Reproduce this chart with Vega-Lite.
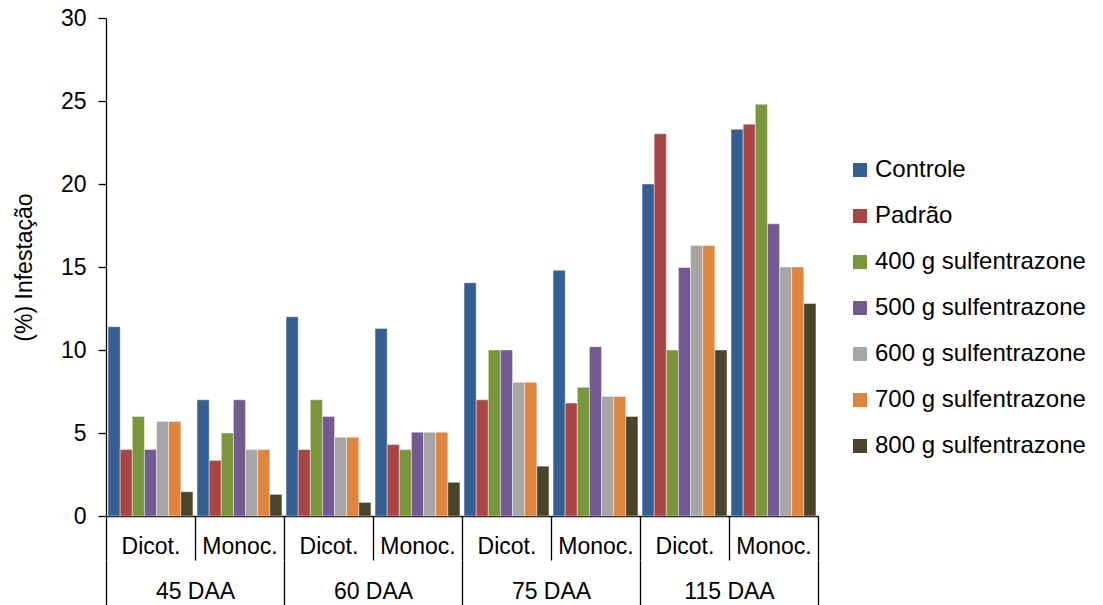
{
  "$schema": "https://vega.github.io/schema/vega-lite/v6.json",
  "width": 712,
  "height": 498,
  "autosize": {"type": "none"},
  "padding": {"left": 106, "top": 18, "right": 285, "bottom": 89},
  "background": "white",
  "config": {
    "font": "Liberation Sans",
    "view": {"stroke": null},
    "axis": {"labelFont": "Liberation Sans", "titleFont": "Liberation Sans", "labelColor": "black", "titleColor": "black", "domainColor": "black", "tickColor": "black", "grid": false}
  },
  "data": {
    "values": [
      {"cat": "45 DAA|Dicot.", "daa": "45 DAA", "trat": "Controle", "v": 11.4},
      {"cat": "45 DAA|Dicot.", "daa": "45 DAA", "trat": "Padrão", "v": 4.0},
      {"cat": "45 DAA|Dicot.", "daa": "45 DAA", "trat": "400 g sulfentrazone", "v": 6.0},
      {"cat": "45 DAA|Dicot.", "daa": "45 DAA", "trat": "500 g sulfentrazone", "v": 4.0},
      {"cat": "45 DAA|Dicot.", "daa": "45 DAA", "trat": "600 g sulfentrazone", "v": 5.7},
      {"cat": "45 DAA|Dicot.", "daa": "45 DAA", "trat": "700 g sulfentrazone", "v": 5.7},
      {"cat": "45 DAA|Dicot.", "daa": "45 DAA", "trat": "800 g sulfentrazone", "v": 1.46},
      {"cat": "45 DAA|Monoc.", "daa": "45 DAA", "trat": "Controle", "v": 7.0},
      {"cat": "45 DAA|Monoc.", "daa": "45 DAA", "trat": "Padrão", "v": 3.35},
      {"cat": "45 DAA|Monoc.", "daa": "45 DAA", "trat": "400 g sulfentrazone", "v": 5.0},
      {"cat": "45 DAA|Monoc.", "daa": "45 DAA", "trat": "500 g sulfentrazone", "v": 7.0},
      {"cat": "45 DAA|Monoc.", "daa": "45 DAA", "trat": "600 g sulfentrazone", "v": 4.0},
      {"cat": "45 DAA|Monoc.", "daa": "45 DAA", "trat": "700 g sulfentrazone", "v": 4.0},
      {"cat": "45 DAA|Monoc.", "daa": "45 DAA", "trat": "800 g sulfentrazone", "v": 1.3},
      {"cat": "60 DAA|Dicot.", "daa": "60 DAA", "trat": "Controle", "v": 12.0},
      {"cat": "60 DAA|Dicot.", "daa": "60 DAA", "trat": "Padrão", "v": 4.0},
      {"cat": "60 DAA|Dicot.", "daa": "60 DAA", "trat": "400 g sulfentrazone", "v": 7.0},
      {"cat": "60 DAA|Dicot.", "daa": "60 DAA", "trat": "500 g sulfentrazone", "v": 6.0},
      {"cat": "60 DAA|Dicot.", "daa": "60 DAA", "trat": "600 g sulfentrazone", "v": 4.75},
      {"cat": "60 DAA|Dicot.", "daa": "60 DAA", "trat": "700 g sulfentrazone", "v": 4.75},
      {"cat": "60 DAA|Dicot.", "daa": "60 DAA", "trat": "800 g sulfentrazone", "v": 0.82},
      {"cat": "60 DAA|Monoc.", "daa": "60 DAA", "trat": "Controle", "v": 11.3},
      {"cat": "60 DAA|Monoc.", "daa": "60 DAA", "trat": "Padrão", "v": 4.3},
      {"cat": "60 DAA|Monoc.", "daa": "60 DAA", "trat": "400 g sulfentrazone", "v": 4.0},
      {"cat": "60 DAA|Monoc.", "daa": "60 DAA", "trat": "500 g sulfentrazone", "v": 5.05},
      {"cat": "60 DAA|Monoc.", "daa": "60 DAA", "trat": "600 g sulfentrazone", "v": 5.05},
      {"cat": "60 DAA|Monoc.", "daa": "60 DAA", "trat": "700 g sulfentrazone", "v": 5.05},
      {"cat": "60 DAA|Monoc.", "daa": "60 DAA", "trat": "800 g sulfentrazone", "v": 2.03},
      {"cat": "75 DAA|Dicot.", "daa": "75 DAA", "trat": "Controle", "v": 14.05},
      {"cat": "75 DAA|Dicot.", "daa": "75 DAA", "trat": "Padrão", "v": 7.0},
      {"cat": "75 DAA|Dicot.", "daa": "75 DAA", "trat": "400 g sulfentrazone", "v": 10.0},
      {"cat": "75 DAA|Dicot.", "daa": "75 DAA", "trat": "500 g sulfentrazone", "v": 10.0},
      {"cat": "75 DAA|Dicot.", "daa": "75 DAA", "trat": "600 g sulfentrazone", "v": 8.05},
      {"cat": "75 DAA|Dicot.", "daa": "75 DAA", "trat": "700 g sulfentrazone", "v": 8.05},
      {"cat": "75 DAA|Dicot.", "daa": "75 DAA", "trat": "800 g sulfentrazone", "v": 3.0},
      {"cat": "75 DAA|Monoc.", "daa": "75 DAA", "trat": "Controle", "v": 14.8},
      {"cat": "75 DAA|Monoc.", "daa": "75 DAA", "trat": "Padrão", "v": 6.8},
      {"cat": "75 DAA|Monoc.", "daa": "75 DAA", "trat": "400 g sulfentrazone", "v": 7.75},
      {"cat": "75 DAA|Monoc.", "daa": "75 DAA", "trat": "500 g sulfentrazone", "v": 10.2},
      {"cat": "75 DAA|Monoc.", "daa": "75 DAA", "trat": "600 g sulfentrazone", "v": 7.2},
      {"cat": "75 DAA|Monoc.", "daa": "75 DAA", "trat": "700 g sulfentrazone", "v": 7.2},
      {"cat": "75 DAA|Monoc.", "daa": "75 DAA", "trat": "800 g sulfentrazone", "v": 6.0},
      {"cat": "115 DAA|Dicot.", "daa": "115 DAA", "trat": "Controle", "v": 20.0},
      {"cat": "115 DAA|Dicot.", "daa": "115 DAA", "trat": "Padrão", "v": 23.03},
      {"cat": "115 DAA|Dicot.", "daa": "115 DAA", "trat": "400 g sulfentrazone", "v": 10.0},
      {"cat": "115 DAA|Dicot.", "daa": "115 DAA", "trat": "500 g sulfentrazone", "v": 14.97},
      {"cat": "115 DAA|Dicot.", "daa": "115 DAA", "trat": "600 g sulfentrazone", "v": 16.3},
      {"cat": "115 DAA|Dicot.", "daa": "115 DAA", "trat": "700 g sulfentrazone", "v": 16.3},
      {"cat": "115 DAA|Dicot.", "daa": "115 DAA", "trat": "800 g sulfentrazone", "v": 10.0},
      {"cat": "115 DAA|Monoc.", "daa": "115 DAA", "trat": "Controle", "v": 23.3},
      {"cat": "115 DAA|Monoc.", "daa": "115 DAA", "trat": "Padrão", "v": 23.6},
      {"cat": "115 DAA|Monoc.", "daa": "115 DAA", "trat": "400 g sulfentrazone", "v": 24.8},
      {"cat": "115 DAA|Monoc.", "daa": "115 DAA", "trat": "500 g sulfentrazone", "v": 17.6},
      {"cat": "115 DAA|Monoc.", "daa": "115 DAA", "trat": "600 g sulfentrazone", "v": 15.0},
      {"cat": "115 DAA|Monoc.", "daa": "115 DAA", "trat": "700 g sulfentrazone", "v": 15.0},
      {"cat": "115 DAA|Monoc.", "daa": "115 DAA", "trat": "800 g sulfentrazone", "v": 12.8}
    ]
  },
  "layer": [
    {
      "mark": {"type": "bar", "stroke": "white", "strokeWidth": 0.7, "strokeOpacity": 0.6},
      "encoding": {
        "x": {
          "field": "cat", "type": "nominal", "sort": null,
          "scale": {"paddingInner": 0, "paddingOuter": 0},
          "axis": {
            "orient": "bottom", "title": null, "labelAngle": 0,
            "labelExpr": "split(datum.label, '|')[1]",
            "labelFontSize": 23, "labelBaseline": "middle", "labelPadding": -14,
            "tickBand": "extent", "tickSize": 44, "tickWidth": 1.3, "domainWidth": 1.3
          }
        },
        "xOffset": {
          "field": "trat", "type": "nominal", "sort": null,
          "scale": {"paddingInner": 0, "paddingOuter": 0.17}
        },
        "y": {
          "field": "v", "type": "quantitative",
          "scale": {"domain": [0, 30], "nice": false},
          "axis": {
            "title": "(%) Infestação", "values": [0, 5, 10, 15, 20, 25, 30],
            "labelFontSize": 23, "titleFontSize": 23, "titleFontWeight": "normal",
            "tickSize": 8, "labelPadding": 12, "titlePadding": 24,
            "tickWidth": 1.3, "domainWidth": 1.3
          }
        },
        "color": {
          "field": "trat", "type": "nominal", "sort": null,
          "scale": {
            "domain": ["Controle", "Padrão", "400 g sulfentrazone", "500 g sulfentrazone", "600 g sulfentrazone", "700 g sulfentrazone", "800 g sulfentrazone"],
            "range": ["#355E92", "#A94643", "#7A963A", "#735A93", "#A6A6A6", "#E0853D", "#4A452A"]
          },
          "legend": {
            "title": null, "orient": "none", "legendX": 742, "legendY": 140,
            "padding": 0, "symbolType": "square", "symbolSize": 196, "symbolStrokeWidth": 0,
            "labelFontSize": 24, "labelColor": "black", "labelOffset": 3, "rowPadding": 22,
            "labelFont": "Liberation Sans", "labelLimit": 400
          }
        }
      }
    },
    {
      "mark": {"type": "point", "opacity": 0},
      "encoding": {
        "x": {
          "field": "daa", "type": "nominal",
          "sort": ["45 DAA", "60 DAA", "75 DAA", "115 DAA"],
          "scale": {"paddingInner": 0, "paddingOuter": 0},
          "axis": {
            "orient": "bottom", "offset": 44, "title": null, "labelAngle": 0, "domain": false,
            "labelFontSize": 23, "labelBaseline": "middle", "labelPadding": -15,
            "tickBand": "extent", "tickSize": 46, "tickWidth": 1.3
          }
        },
        "y": {"datum": 0, "type": "quantitative"}
      }
    }
  ],
  "resolve": {"scale": {"x": "independent"}, "axis": {"x": "independent"}}
}
